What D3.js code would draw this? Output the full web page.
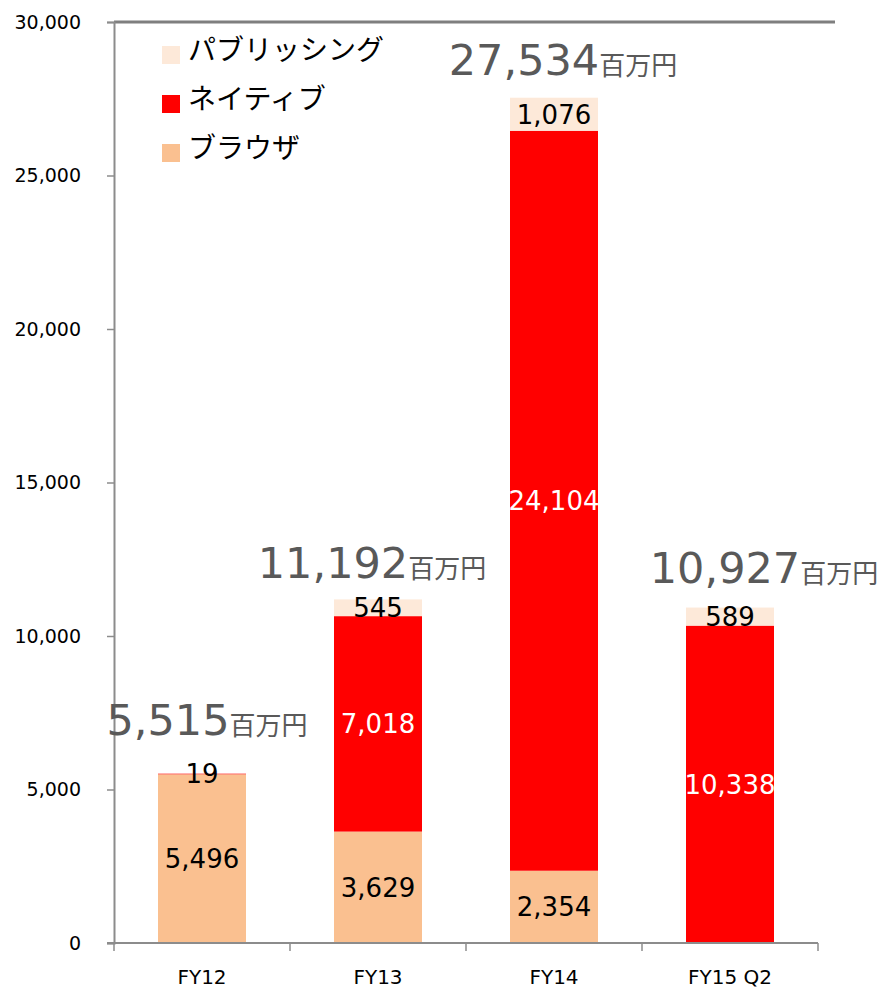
<!DOCTYPE html>
<html>
<head>
<meta charset="utf-8">
<script src="https://cdn.jsdelivr.net/npm/d3@7"></script>
<style>
  html, body { margin: 0; padding: 0; background: #fff; }
  svg { display: block; }
</style>
</head>
<body>
<script>
// Revenue by game type (millions of yen)
const categories = ["FY12", "FY13", "FY14", "FY15 Q2"];
const seriesNames = ["ブラウザ", "ネイティブ", "パブリッシング"];
const browser    = [5496, 3629, 2354, 0];
const native     = [19, 7018, 24104, 10338];
const publishing = [0, 545, 1076, 589];
const totals     = [5515, 11192, 27534, 10927];
const yTicks     = [0, 5000, 10000, 15000, 20000, 25000, 30000];
const unitLabel  = "百万円";

const W = 883, H = 988;
const colors = { "ブラウザ": "#FAC090", "ネイティブ": "#FF0000", "パブリッシング": "#FDE9D9" };
const labelColors = { "ブラウザ": "#000", "ネイティブ": "#fff", "パブリッシング": "#000" };
const numFont = "'DejaVu Sans', Verdana, sans-serif";
const jpFont = "'Noto Sans CJK JP', sans-serif";

const svg = d3.select("body").append("svg").attr("width", W).attr("height", H);

const x = d3.scaleBand().domain(categories).range([114, 818]).paddingInner(0.5).paddingOuter(0.25);
const y = d3.scaleLinear().domain([0, 30000]).range([943, 22]);

// stacked data
const rows = categories.map((c, i) => ({
  cat: c,
  "ブラウザ": browser[i],
  "ネイティブ": native[i],
  "パブリッシング": publishing[i]
}));
const stack = d3.stack().keys(seriesNames)(rows);

// bars
const layers = svg.append("g").selectAll("g").data(stack).join("g")
  .attr("fill", d => colors[d.key]);
layers.selectAll("rect").data(d => d).join("rect")
  .attr("x", d => x(d.data.cat))
  .attr("width", x.bandwidth())
  .attr("y", d => y(d[1]))
  .attr("height", d => Math.max(0, y(d[0]) - y(d[1])));

// plot frame top line
svg.append("line")
  .attr("x1", 114).attr("x2", 835).attr("y1", 22).attr("y2", 22)
  .attr("stroke", "#7f7f7f").attr("stroke-width", 3);

// y axis
const yAxis = svg.append("g").attr("transform", "translate(114,0)")
  .call(d3.axisLeft(y).tickValues(yTicks).tickFormat(d3.format(",")).tickSize(7).tickPadding(26));
yAxis.select(".domain").attr("stroke", "#8c8c8c").attr("stroke-width", 2);
yAxis.selectAll(".tick line").attr("stroke", "#8c8c8c").attr("stroke-width", 1.5);
yAxis.selectAll(".tick text").attr("font-family", numFont).attr("font-size", 19).attr("fill", "#000");

// x axis
const xEdges = d3.range(categories.length + 1).map(i => 114 + i * x.step());
svg.append("line").attr("x1", 107).attr("x2", 818).attr("y1", 943).attr("y2", 943)
  .attr("stroke", "#8c8c8c").attr("stroke-width", 2);
svg.append("g").selectAll("line").data(xEdges).join("line")
  .attr("x1", d => d).attr("x2", d => d).attr("y1", 943).attr("y2", 951)
  .attr("stroke", "#8c8c8c").attr("stroke-width", 1.5);
svg.append("g").selectAll("text").data(categories).join("text")
  .attr("x", d => x(d) + x.bandwidth() / 2)
  .attr("y", 984)
  .attr("text-anchor", "middle")
  .attr("font-family", numFont).attr("font-size", 20).attr("fill", "#000")
  .text(d => d);

// segment value labels
const segLabels = [];
stack.forEach(layer => {
  layer.forEach(d => {
    const v = d[1] - d[0];
    if (v > 0) segLabels.push({ key: layer.key, cat: d.data.cat, v, mid: (d[0] + d[1]) / 2 });
  });
});
svg.append("g").selectAll("text").data(segLabels).join("text")
  .attr("x", d => x(d.cat) + x.bandwidth() / 2)
  .attr("y", d => y(d.mid))
  .attr("dy", "0.36em")
  .attr("text-anchor", "middle")
  .attr("font-family", numFont).attr("font-size", 26)
  .attr("fill", d => (d.key === "ネイティブ" && d.v < 100) ? "#000" : labelColors[d.key])
  .text(d => d3.format(",")(d.v));

// total labels above each bar
const totalShift = [[5, -39], [-6, -21], [9, -23], [34, -25]];
const tg = svg.append("g").selectAll("text").data(totals).join("text")
  .attr("x", (d, i) => x(categories[i]) + x.bandwidth() / 2 + totalShift[i][0])
  .attr("y", (d, i) => y(d) + totalShift[i][1])
  .attr("text-anchor", "middle")
  .attr("fill", "#595959");
tg.append("tspan").attr("font-family", numFont).attr("font-size", 43).text(d => d3.format(",")(d));
tg.append("tspan").attr("font-family", jpFont).attr("font-size", 26).text(unitLabel);

// legend
const legendOrder = ["パブリッシング", "ネイティブ", "ブラウザ"];
const lg = svg.append("g").selectAll("g").data(legendOrder).join("g")
  .attr("transform", (d, i) => `translate(162,${46 + i * 49})`);
lg.append("rect").attr("width", 18).attr("height", 18).attr("fill", d => colors[d]);
lg.append("text").attr("x", 26).attr("y", 4).attr("dy", "0.35em")
  .attr("font-family", jpFont).attr("font-size", 28).attr("fill", "#000")
  .text(d => d);
</script>
</body>
</html>
